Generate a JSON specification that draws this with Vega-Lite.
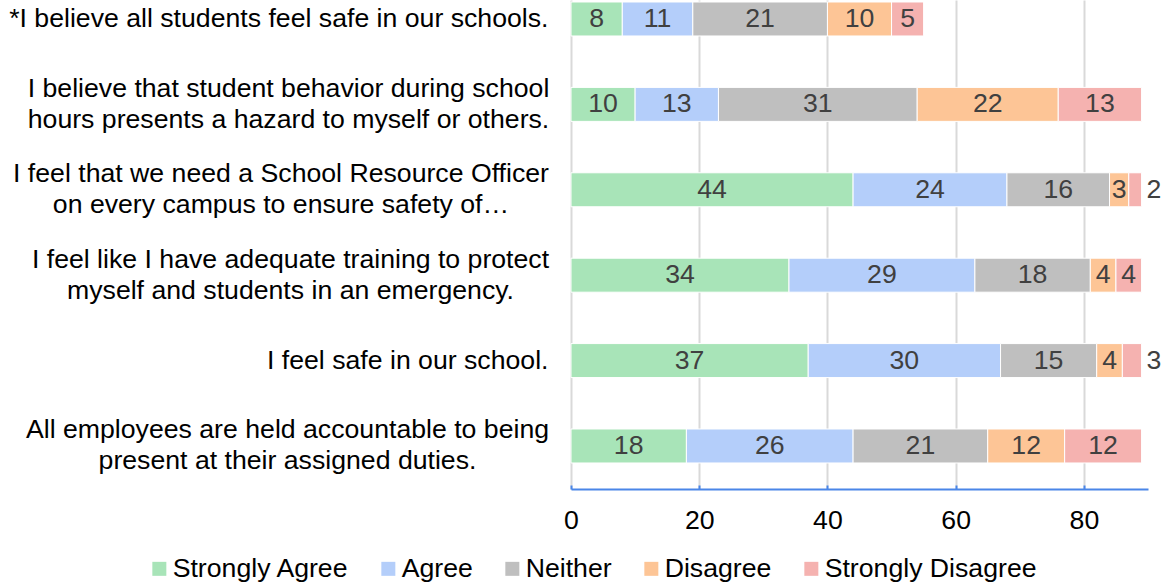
{
  "$schema": "https://vega.github.io/schema/vega-lite/v6.json",
  "width": 577,
  "height": 489,
  "autosize": {"type": "none"},
  "padding": {"left": 571, "top": 0, "right": 19, "bottom": 97},
  "background": "white",
  "config": {
    "font": "Liberation Sans",
    "view": {"stroke": null},
    "axisX": {
      "title": null,
      "domainColor": "#4A86E8",
      "domainWidth": 2,
      "tickColor": "#4A86E8",
      "tickWidth": 2,
      "tickSize": -4,
      "grid": true,
      "gridColor": "#D9D9D9",
      "gridWidth": 2,
      "labelFontSize": 26.67,
      "labelColor": "#000000",
      "labelPadding": 22,
      "labelFlush": false,
      "labelFont": "Liberation Sans"
    },
    "axisY": {
      "title": null,
      "ticks": false,
      "domain": false,
      "grid": false,
      "labelFontSize": 26.67,
      "labelColor": "#000000",
      "labelLimit": 600,
      "labelLineHeight": 31,
      "labelFont": "Liberation Sans"
    }
  },
  "data": {
    "values": [
      {"q": "*I believe all students feel safe in our schools.", "r": "Strongly Agree", "k": 1, "v": 8},
      {"q": "*I believe all students feel safe in our schools.", "r": "Agree", "k": 2, "v": 11},
      {"q": "*I believe all students feel safe in our schools.", "r": "Neither", "k": 3, "v": 21},
      {"q": "*I believe all students feel safe in our schools.", "r": "Disagree", "k": 4, "v": 10},
      {"q": "*I believe all students feel safe in our schools.", "r": "Strongly Disagree", "k": 5, "v": 5},
      {"q": "I believe that student behavior during school\nhours presents a hazard to myself or others.", "r": "Strongly Agree", "k": 1, "v": 10},
      {"q": "I believe that student behavior during school\nhours presents a hazard to myself or others.", "r": "Agree", "k": 2, "v": 13},
      {"q": "I believe that student behavior during school\nhours presents a hazard to myself or others.", "r": "Neither", "k": 3, "v": 31},
      {"q": "I believe that student behavior during school\nhours presents a hazard to myself or others.", "r": "Disagree", "k": 4, "v": 22},
      {"q": "I believe that student behavior during school\nhours presents a hazard to myself or others.", "r": "Strongly Disagree", "k": 5, "v": 13},
      {"q": "I feel that we need a School Resource Officer\non every campus to ensure safety of…", "r": "Strongly Agree", "k": 1, "v": 44},
      {"q": "I feel that we need a School Resource Officer\non every campus to ensure safety of…", "r": "Agree", "k": 2, "v": 24},
      {"q": "I feel that we need a School Resource Officer\non every campus to ensure safety of…", "r": "Neither", "k": 3, "v": 16},
      {"q": "I feel that we need a School Resource Officer\non every campus to ensure safety of…", "r": "Disagree", "k": 4, "v": 3},
      {"q": "I feel that we need a School Resource Officer\non every campus to ensure safety of…", "r": "Strongly Disagree", "k": 5, "v": 2},
      {"q": "I feel like I have adequate training to protect\nmyself and students in an emergency.", "r": "Strongly Agree", "k": 1, "v": 34},
      {"q": "I feel like I have adequate training to protect\nmyself and students in an emergency.", "r": "Agree", "k": 2, "v": 29},
      {"q": "I feel like I have adequate training to protect\nmyself and students in an emergency.", "r": "Neither", "k": 3, "v": 18},
      {"q": "I feel like I have adequate training to protect\nmyself and students in an emergency.", "r": "Disagree", "k": 4, "v": 4},
      {"q": "I feel like I have adequate training to protect\nmyself and students in an emergency.", "r": "Strongly Disagree", "k": 5, "v": 4},
      {"q": "I feel safe in our school.", "r": "Strongly Agree", "k": 1, "v": 37},
      {"q": "I feel safe in our school.", "r": "Agree", "k": 2, "v": 30},
      {"q": "I feel safe in our school.", "r": "Neither", "k": 3, "v": 15},
      {"q": "I feel safe in our school.", "r": "Disagree", "k": 4, "v": 4},
      {"q": "I feel safe in our school.", "r": "Strongly Disagree", "k": 5, "v": 3},
      {"q": "All employees are held accountable to being\npresent at their assigned duties.", "r": "Strongly Agree", "k": 1, "v": 18},
      {"q": "All employees are held accountable to being\npresent at their assigned duties.", "r": "Agree", "k": 2, "v": 26},
      {"q": "All employees are held accountable to being\npresent at their assigned duties.", "r": "Neither", "k": 3, "v": 21},
      {"q": "All employees are held accountable to being\npresent at their assigned duties.", "r": "Disagree", "k": 4, "v": 12},
      {"q": "All employees are held accountable to being\npresent at their assigned duties.", "r": "Strongly Disagree", "k": 5, "v": 12}
    ]
  },
  "encoding": {
    "y": {
      "field": "q",
      "type": "nominal",
      "sort": null,
      "scale": {"paddingInner": 0.602, "paddingOuter": 0.164, "align": 0.071},
      "axis": {
        "labelExpr": "split(datum.label, '\\n')",
        "labelOffset": {"condition": {"test": "indexof(datum.value, '\\n') >= 0", "value": -15.5}, "value": 0},
        "labelAlign": {"condition": {"test": "indexof(datum.value, '\\n') >= 0", "value": "center"}, "value": "right"},
        "labelPadding": {
          "condition": [
            {"test": "indexof(datum.value, 'I believe that student') == 0", "value": 283},
            {"test": "indexof(datum.value, 'I feel that we need') == 0", "value": 290.5},
            {"test": "indexof(datum.value, 'I feel like I have') == 0", "value": 281},
            {"test": "indexof(datum.value, 'All employees') == 0", "value": 284}
          ],
          "value": 23
        }
      }
    }
  },
  "layer": [
    {
      "mark": {"type": "bar", "stroke": "white", "strokeWidth": 1},
      "encoding": {
        "x": {
          "field": "v",
          "type": "quantitative",
          "stack": "zero",
          "scale": {"domain": [0, 90], "nice": false, "zero": true},
          "axis": {"values": [0, 20, 40, 60, 80]}
        },
        "color": {
          "field": "r",
          "type": "nominal",
          "scale": {
            "domain": ["Strongly Agree", "Agree", "Neither", "Disagree", "Strongly Disagree"],
            "range": ["#A8E4B8", "#B4CEFA", "#BFBFBF", "#FDC596", "#F5B2B0"]
          },
          "legend": {
            "title": null,
            "orient": "none",
            "legendX": -425,
            "legendY": 555,
            "direction": "horizontal",
            "symbolType": "square",
            "symbolSize": 196,
            "symbolStrokeWidth": 0,
            "labelFontSize": 26.67,
            "labelColor": "#000000",
            "labelFont": "Liberation Sans",
            "labelOffset": 0,
            "columnPadding": 26,
            "padding": 0,
            "labelLimit": 400
          }
        },
        "order": {"field": "k", "type": "quantitative"}
      }
    },
    {
      "mark": {"type": "text", "fontSize": 26.67, "color": "#404040", "baseline": "middle", "font": "Liberation Sans"},
      "encoding": {
        "x": {"field": "v", "type": "quantitative", "stack": "zero", "bandPosition": 0.5, "scale": {"domain": [0, 90], "nice": false, "zero": true}},
        "detail": {"field": "r", "type": "nominal"},
        "order": {"field": "k", "type": "quantitative"},
        "text": {
          "condition": {"test": "datum.r === 'Strongly Disagree' && datum.v <= 3", "value": ""},
          "field": "v",
          "type": "quantitative"
        }
      }
    },
    {
      "mark": {"type": "text", "fontSize": 26.67, "color": "#404040", "baseline": "middle", "align": "left", "dx": 5, "font": "Liberation Sans"},
      "encoding": {
        "x": {"field": "v", "type": "quantitative", "stack": "zero", "scale": {"domain": [0, 90], "nice": false, "zero": true}},
        "detail": {"field": "r", "type": "nominal"},
        "order": {"field": "k", "type": "quantitative"},
        "text": {
          "condition": {"test": "datum.r === 'Strongly Disagree' && datum.v <= 3", "field": "v", "type": "quantitative"},
          "value": ""
        }
      }
    }
  ]
}
